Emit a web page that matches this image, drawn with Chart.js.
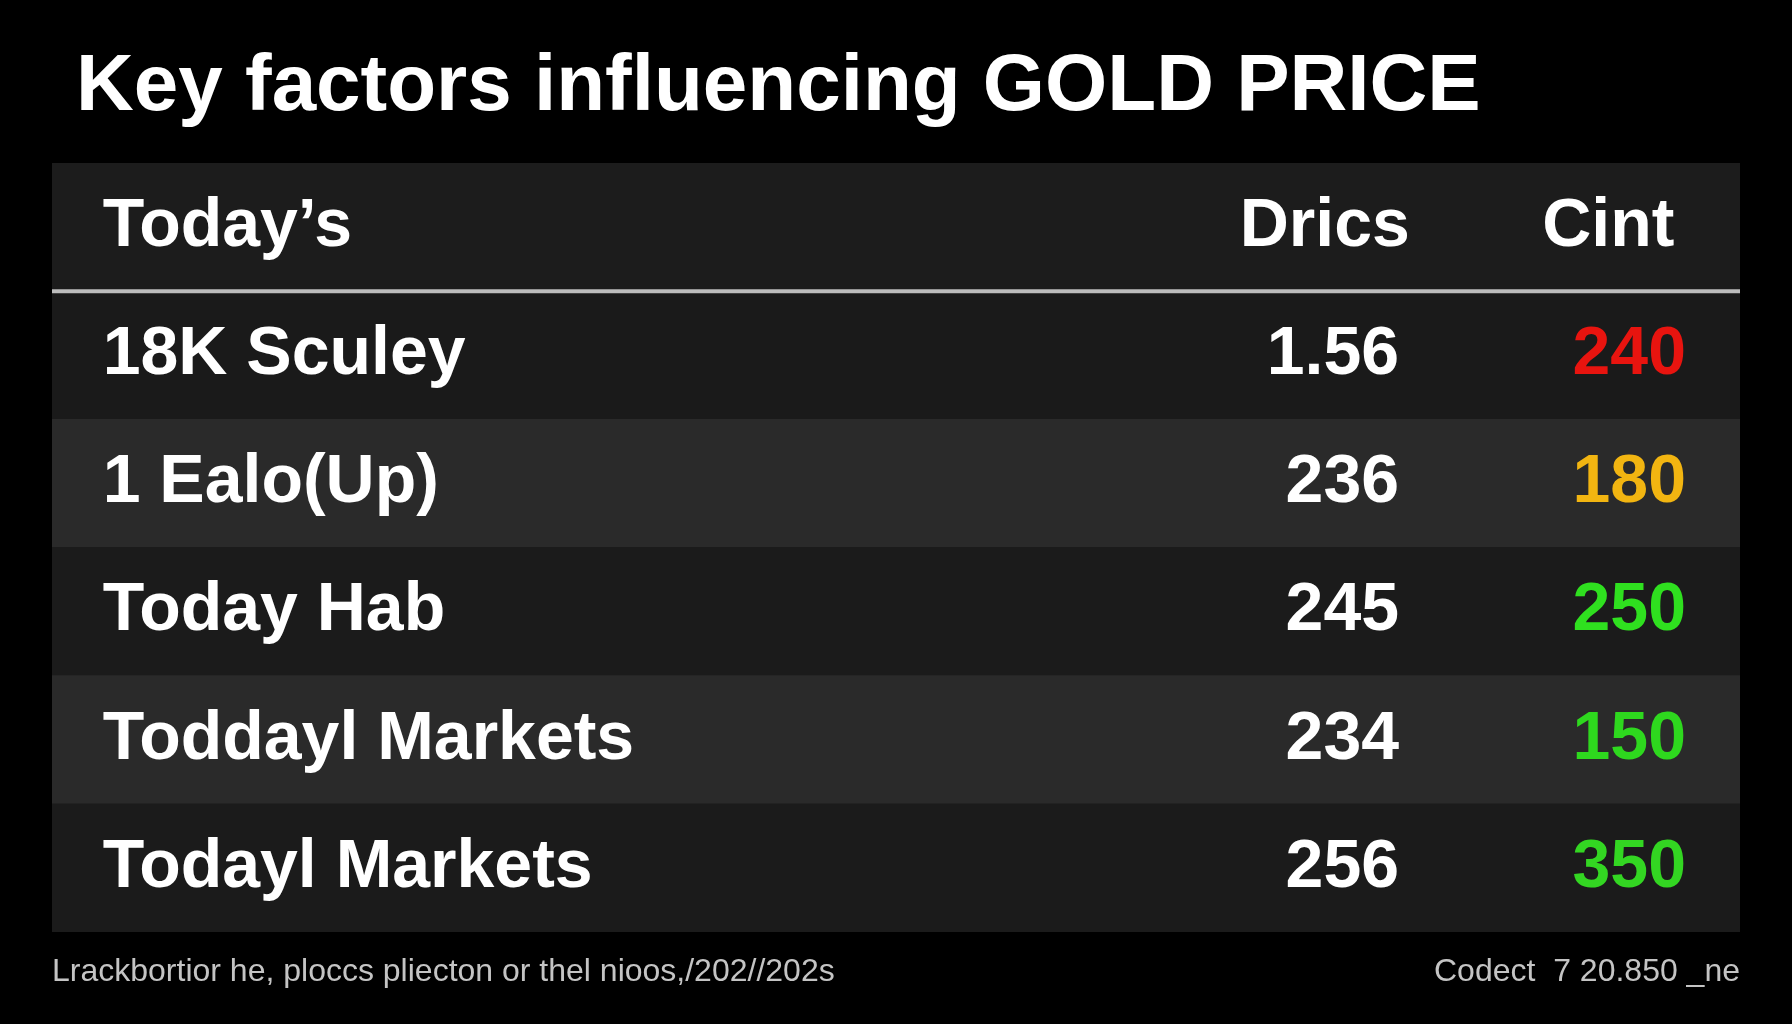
<!DOCTYPE html>
<html>
<head>
<meta charset="utf-8">
<script src="https://cdn.jsdelivr.net/npm/chart.js@4/dist/chart.umd.min.js"></script>
<style>
  html, body { margin: 0; padding: 0; background: #000; }
  #wrap { width: 1792px; height: 1024px; }
</style>
</head>
<body>
<div id="wrap"><canvas id="board"></canvas></div>
<script>
// table content
const title = "Key factors influencing GOLD PRICE";
const headers = ["Today\u2019s", "Drics", "Cint"];
const rowNames = ["18K Sculey", "1 Ealo(Up)", "Today Hab", "Toddayl Markets", "Todayl Markets"];
const drics = ["1.56", "236", "245", "234", "256"];
const cint = ["240", "180", "250", "150", "350"];
const cintColors = ["#e8140f", "#f2b511", "#2fe01f", "#2ed81e", "#33d622"];
const footerLeft = "Lrackbortior he, ploccs pliecton or thel nioos,/202//202s";
const footerRight = "Codect  7 20.850 _ne";

const categories = ["head"].concat(rowNames);
const rowBg = ["#1c1c1c", "#1a1a1a", "#2a2a2a", "#1b1b1b", "#2a2a2a", "#1b1b1b"];

const FONT = "'Liberation Sans', Arial, sans-serif";

// draws the text of the table using the chart scales
const tableText = {
  id: 'tableText',
  afterDatasetsDraw(chart) {
    const ctx = chart.ctx;
    const x = chart.scales.x;
    const y = chart.scales.y;
    ctx.save();
    ctx.textBaseline = 'middle';

    // title
    ctx.fillStyle = '#ffffff';
    ctx.font = 'bold 80px ' + FONT;
    ctx.textAlign = 'left';
    ctx.fillText(title, 76, 88);

    // header
    const hy = y.getPixelForValue(0);
    ctx.font = 'bold 68px ' + FONT;
    ctx.textAlign = 'left';
    ctx.fillText(headers[0], x.getPixelForValue(3.0), hy);
    ctx.textAlign = 'center';
    ctx.fillText(headers[1], x.getPixelForValue(75.4), hy);
    ctx.fillText(headers[2], x.getPixelForValue(92.2), hy);

    // separator line under header
    const sep = (y.getPixelForValue(0) + y.getPixelForValue(1)) / 2;
    ctx.strokeStyle = '#bdbdbd';
    ctx.lineWidth = 4;
    ctx.beginPath();
    ctx.moveTo(chart.chartArea.left, sep);
    ctx.lineTo(chart.chartArea.right, sep);
    ctx.stroke();

    rowNames.forEach((name, i) => {
      const ry = y.getPixelForValue(i + 1);
      ctx.fillStyle = '#ffffff';
      ctx.textAlign = 'left';
      ctx.fillText(name, x.getPixelForValue(3.0), ry);
      ctx.textAlign = 'right';
      ctx.fillText(drics[i], x.getPixelForValue(79.8), ry);
      ctx.fillStyle = cintColors[i];
      ctx.fillText(cint[i], x.getPixelForValue(96.8), ry);
    });

    // footer
    ctx.font = '32px ' + FONT;
    ctx.fillStyle = '#c4c4c4';
    ctx.textAlign = 'left';
    ctx.fillText(footerLeft, chart.chartArea.left, 972);
    ctx.textAlign = 'right';
    ctx.fillText(footerRight, chart.chartArea.right, 972);
    ctx.restore();
  }
};

const blackBg = {
  id: 'blackBg',
  beforeDraw(chart) {
    const ctx = chart.ctx;
    ctx.save();
    ctx.fillStyle = '#000';
    ctx.fillRect(0, 0, chart.width, chart.height);
    ctx.restore();
  }
};

new Chart(document.getElementById('board'), {
  type: 'bar',
  data: {
    labels: categories,
    datasets: [{
      data: categories.map(() => [0, 100]),
      backgroundColor: rowBg,
      borderWidth: 0,
      barPercentage: 1,
      categoryPercentage: 1
    }]
  },
  options: {
    indexAxis: 'y',
    responsive: true,
    maintainAspectRatio: false,
    animation: false,
    layout: { padding: { left: 52, right: 52, top: 163, bottom: 92 } },
    scales: {
      x: { min: 0, max: 100, display: false },
      y: { display: false }
    },
    plugins: {
      legend: { display: false },
      tooltip: { enabled: false },
      title: { display: false }
    }
  },
  plugins: [blackBg, tableText]
});
</script>
</body>
</html>
